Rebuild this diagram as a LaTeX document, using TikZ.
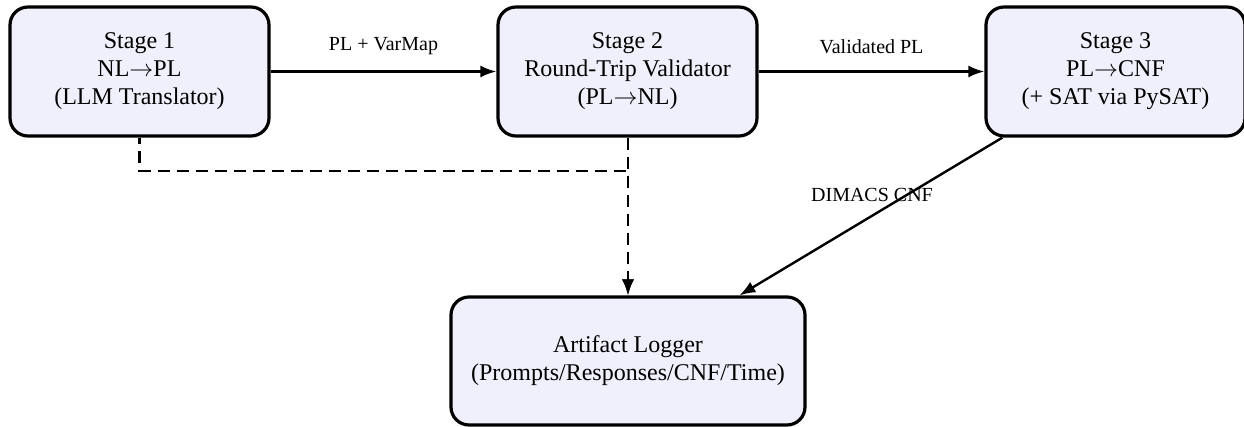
\documentclass[tikz,border=0pt]{standalone}
\usepackage{fontspec}
\setmainfont{Liberation Serif}
\usetikzlibrary{arrows.meta,calc}
\definecolor{boxfill}{RGB}{240,240,252}
\begin{document}
\begin{tikzpicture}[x=0.5pt,y=-0.5pt,
  stagebox/.style={draw, line width=1.6pt, fill=boxfill, rounded corners=9pt,
    minimum width=129.5pt, minimum height=64.5pt, inner sep=0pt, align=center,
    font=\fontsize{12}{14}\selectfont},
  flow/.style={line width=1.2pt, -{Latex[length=8pt,width=6pt]}},
  dflow/.style={flow, line width=1.3pt, dash pattern=on 6pt off 3.5pt},
  lbl/.style={font=\fontsize{10}{12}\selectfont, inner sep=0pt}]
\useasboundingbox (0,0) rectangle (1244,427);
\node[stagebox] (s1) at (139.5,71.5) {Stage 1\\NL$\rightarrow$PL\\(LLM Translator)};
\node[stagebox] (s2) at (627.5,71.5) {Stage 2\\Round-Trip Validator\\(PL$\rightarrow$NL)};
\node[stagebox] (s3) at (1115.5,71.5) {Stage 3\\PL$\rightarrow$CNF\\(+ SAT via PySAT)};
\node[stagebox, minimum width=177pt, minimum height=64pt] (log) at (628,361) {Artifact Logger\\(Prompts/Responses/CNF/Time)};
\draw[flow] (s1) -- (s2) node[lbl, midway, above=8pt] {PL + VarMap};
\draw[flow] (s2) -- (s3) node[lbl, midway, above=8pt] {Validated PL};
\coordinate (j1) at (139.5,171);
\coordinate (j2) at (628,171);
\draw[dflow, dash phase=2.75pt] (s1.south -| j1) -- (j1) -- (j2) -- (log.north -| j2);
\draw[dflow] (s2.south -| j2) -- (log.north -| j2);
\coordinate (d1) at ($(s3.south west)+(18,0)$);
\coordinate (d2) at ($(log.north west)+(290,0)$);
\draw[flow] (d1) -- (d2);
\node[lbl] (dl) at (872,195) {DIMACS CNF};
\end{tikzpicture}
\end{document}
